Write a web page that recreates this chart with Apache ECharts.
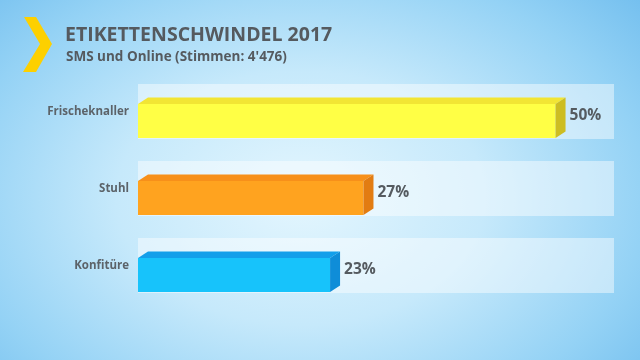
<!DOCTYPE html>
<html>
<head>
<meta charset="utf-8">
<script src="https://cdn.jsdelivr.net/npm/echarts@6/dist/echarts.min.js"></script>
<style>
html,body{margin:0;padding:0;}
#chart{width:640px;height:360px;background:radial-gradient(ellipse 72% 88% at 47% 55%, #e4f6fe 0%, #c6e9fb 40%, #94d2f5 75%, #70bdee 100%);}
</style>
</head>
<body>
<div id="chart"></div>
<script>
const categories = ['Frischeknaller', 'Stuhl', 'Konfitüre'];
const values = [50, 27, 23];
const valueLabels = ['50%', '27%', '23%'];
const axisMax = 57;

const frontColors = ['#ffff45', '#ffa31f', '#17c3fb'];
const topColors = ['#f2e534', '#f7901a', '#139fea'];
const sideColors = ['#cdbd22', '#e27c12', '#0f8dd8'];

const chart = echarts.init(document.getElementById('chart'));

function renderItem(params, api) {
  const i = api.value(1);
  const v = api.value(0);
  const p0 = api.coord([0, i]);
  const p1 = api.coord([v, i]);
  const pm = api.coord([axisMax, i]);
  const band = api.size([0, 1])[1];
  const cy = p0[1];
  const trackH = band * 0.714;
  const yTop = cy - band * 0.097;
  const yBot = cy + band * 0.344;
  const dx = 10, dy = 6.5;
  const x0 = p0[0], x1 = p1[0];
  return {
    type: 'group',
    children: [
      { type: 'rect', shape: { x: x0, y: cy - trackH / 2, width: pm[0] - x0, height: trackH },
        style: { fill: 'rgba(255,255,255,0.45)' } },
      { type: 'rect', shape: { x: x0, y: yTop, width: x1 - x0, height: yBot - yTop },
        style: { fill: frontColors[i] } },
      { type: 'polygon', shape: { points: [[x0, yTop], [x0 + dx, yTop - dy], [x1 + dx, yTop - dy], [x1, yTop]] },
        style: { fill: topColors[i] } },
      { type: 'polygon', shape: { points: [[x1, yTop], [x1 + dx, yTop - dy], [x1 + dx, yBot - dy], [x1, yBot]] },
        style: { fill: sideColors[i] } },
      { type: 'text', x: x1 + dx + 4, y: cy + 4.5,
        style: { text: valueLabels[i], fill: '#555b60', font: 'bold 15.5px "Open Sans"', align: 'left', verticalAlign: 'middle' } }
    ]
  };
}

chart.setOption({
  animation: false,
  backgroundColor: 'transparent',
  title: [
    { text: 'ETIKETTENSCHWINDEL 2017', left: 60, top: 20,
      textStyle: { fontFamily: 'Open Sans', fontWeight: 'bold', fontSize: 19.5, color: '#555a5f' } },
    { text: "SMS und Online (Stimmen: 4'476)", left: 61, top: 45,
      textStyle: { fontFamily: 'Open Sans', fontWeight: 'bold', fontSize: 13.5, color: '#555a5f' } }
  ],
  graphic: [
    { type: 'polygon', shape: { points: [[24, 17], [36, 17], [52, 44], [36, 72], [23, 72], [40, 44]] },
      style: { fill: '#fdd000' } }
  ],
  grid: { left: 138, right: 26, top: 73, bottom: 56 },
  xAxis: { type: 'value', min: 0, max: axisMax, show: false },
  yAxis: {
    type: 'category', data: categories, inverse: true,
    axisLine: { show: false }, axisTick: { show: false },
    axisLabel: { margin: 9, fontFamily: 'Open Sans', fontWeight: 'bold', fontSize: 11.5, color: '#5c6369' }
  },
  series: [{
    type: 'custom',
    renderItem: renderItem,
    encode: { x: 0, y: 1 },
    data: values.map((v, i) => [v, i])
  }]
});
</script>
</body>
</html>
